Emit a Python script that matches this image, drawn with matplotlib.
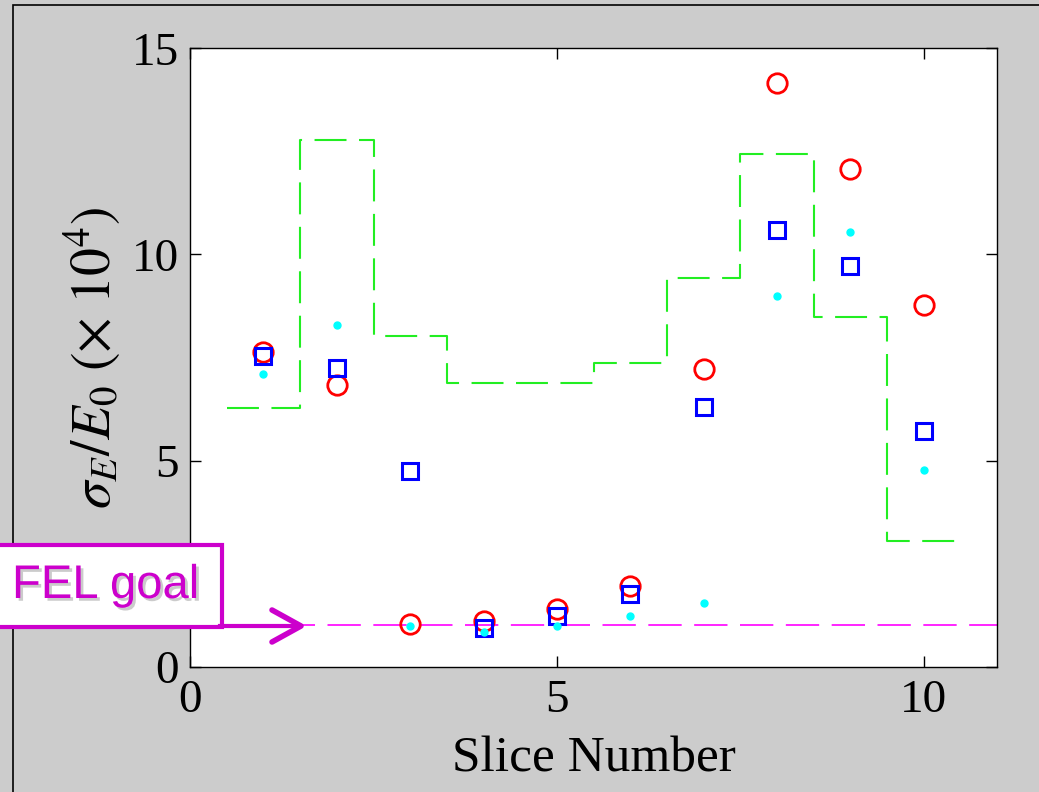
import matplotlib.pyplot as plt
import matplotlib.patheffects as pe
from matplotlib.patches import Rectangle
import numpy as np

plt.rcParams['font.family'] = 'Liberation Serif'
plt.rcParams['mathtext.fontset'] = 'stix'
plt.rcParams['lines.scale_dashes'] = False

# slice numbers
slices = np.arange(1, 11)

# sigma_E / E0 (x 1e4) per slice
red_circles = [7.63, 6.83, 1.05, 1.12, 1.41, 1.95, 7.22, 14.17, 12.07, 8.78]
blue_squares = [7.54, 7.24, 4.76, 0.95, 1.24, 1.76, 6.29, 10.59, 9.73, 5.71]
cyan_dots = [7.10, 8.29, 1.00, 0.85, 0.98, 1.24, 1.54, 9.00, 10.54, 4.78]
green_steps = [6.27, 12.78, 8.02, 6.88, 6.88, 7.37, 9.44, 12.44, 8.49, 3.05]
fel_goal = 1.02

fig = plt.figure(figsize=(10.39, 7.92), dpi=100, facecolor='#cccccc')
ax = fig.add_axes([0.183, 0.158, 0.7766, 0.781])

# green dashed step line, slice centred
sx = np.concatenate([[slices[0] - 0.5], slices + 0.5])
sy = np.concatenate([green_steps, [green_steps[-1]]])
ax.step(sx, sy, where='post', color='#22ee22', lw=1.5, dashes=(23, 9))

ax.axhline(fel_goal, color='#ff00ff', lw=1.2, dashes=(24, 9))

ax.plot(slices, red_circles, 'o', ms=14, mfc='none', mec='#ff0000', mew=2)
ax.plot(slices, blue_squares, 's', ms=12, mfc='none', mec='#0000ff', mew=2.2)
ax.plot(slices, cyan_dots, 'o', ms=5, color='#00ffff', mec='#00ffff')

ax.set_xlim(0, 11)
ax.set_ylim(0, 15)
ax.set_xticks([0, 5, 10])
ax.set_yticks([0, 5, 10, 15])
ax.tick_params(direction='in', length=8, width=1, labelsize=34,
               top=True, right=True)
ax.tick_params(axis='x', pad=9)
ax.tick_params(axis='y', pad=8)
for s in ax.spines.values():
    s.set_linewidth(1.0)

ax.set_xlabel('Slice Number', fontsize=37, labelpad=10)
ax.set_ylabel(r'$\sigma_E/E_0\ (\times\ 10^4)$', fontsize=40, labelpad=6)

# figure border
fig.add_artist(Rectangle((13 / 1039, -0.05), 1.2, 1.05 - 5 / 792,
                         transform=fig.transFigure, fill=False,
                         edgecolor='black', lw=1.2))

# FEL goal callout box
magenta = '#cc00cc'
box = Rectangle((-0.02, (792 - 627) / 792), 0.02 + 222 / 1039, 82 / 792,
                transform=fig.transFigure, facecolor='white',
                edgecolor=magenta, lw=3, zorder=5)
fig.add_artist(box)
fig.text(12 / 1039, (792 - 586) / 792, 'FEL goal', fontsize=34,
         family='Liberation Sans', color=magenta, va='center', ha='left',
         zorder=6,
         path_effects=[pe.SimplePatchShadow(offset=(2, -2),
                                            shadow_rgbFace='#999999',
                                            alpha=0.5),
                       pe.Normal()])
fig.add_artist(plt.Line2D([220 / 1039, 300 / 1039],
                          [(792 - 626) / 792] * 2,
                          transform=fig.transFigure, color=magenta, lw=3,
                          zorder=6))
fig.add_artist(plt.Line2D([272 / 1039, 301 / 1039, 272 / 1039],
                          [(792 - 610) / 792, (792 - 626) / 792,
                           (792 - 642) / 792],
                          transform=fig.transFigure, color=magenta, lw=4,
                          solid_capstyle='round', zorder=6))

fig.savefig('out.png', dpi=100, facecolor=fig.get_facecolor())
